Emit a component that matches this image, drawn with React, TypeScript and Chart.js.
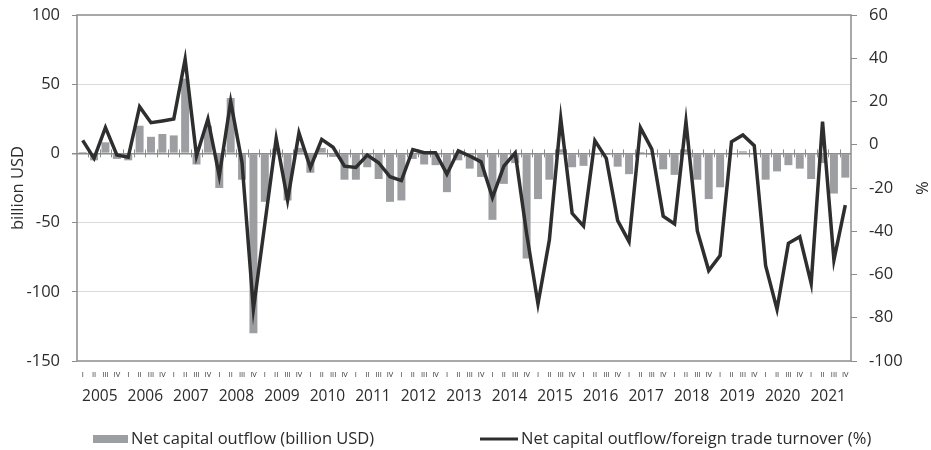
import React, { useEffect, useRef } from "react";
import { Chart, registerables } from "chart.js";

Chart.register(...registerables);

// ---------- data ----------
const years = [
  "2005", "2006", "2007", "2008", "2009", "2010", "2011", "2012", "2013",
  "2014", "2015", "2016", "2017", "2018", "2019", "2020", "2021",
];
const quarterNames = ["I", "II", "III", "IV"];
const quarterLabels = years.flatMap(() => quarterNames);

// Net capital outflow, billion USD (quarterly, 2005 Q1 – 2021 Q4)
const netOutflowBn = [
  1, -5, 8, -4,
  -5, 20, 12, 14,
  13, 54, -8, 20,
  -25, 40, -19, -130,
  -35, 3.5, -34, 4,
  -14, 4, -2.5, -19,
  -19, -10, -18.5, -35,
  -34, -4, -8, -8.5,
  -28, -5, -11, -17,
  -48, -22, -7, -76,
  -33, -19, 3, -10,
  -9, -1, -1, -9.6,
  -15, 1, -1, -11.5,
  -15.5, 3, -19, -33,
  -24.5, -0.5, 1.5, 0,
  -19, -13, -8.5, -11,
  -18.5, -7, -29, -17.5,
];

// Net capital outflow / foreign trade turnover, %
const outflowToTurnoverPct = [
  2, -6.3, 8, -4.7,
  -5.8, 17.6, 10.2, 11,
  11.9, 39.5, -5.2, 11.9,
  -14.4, 20, -8.3, -76,
  -36.7, 2.9, -25.6, 5.5,
  -10.6, 2.5, -1.2, -9.9,
  -10.5, -4.8, -8.3, -14.8,
  -16.6, -2.2, -3.7, -3.7,
  -13.6, -2.8, -5.2, -7.9,
  -24.4, -9.9, -3.7, -41,
  -73.6, -44, 12.2, -31.7,
  -37.6, 1.9, -6.3, -35.1,
  -44.8, 7.9, -2, -33,
  -36.6, 10.7, -39.9, -58.2,
  -51.3, 1.4, 4.5, -0.4,
  -55.9, -76.1, -45.6, -42.5,
  -64.1, 10.7, -53.3, -27.9,
];

const barLabel = "Net capital outflow (billion USD)";
const lineLabel = "Net capital outflow/foreign trade turnover (%)";

// ---------- styles ----------
const FONT = "'Open Sans', 'Noto Sans', sans-serif";
const TEXT = "#2b2b2b";
const FRAME = "#8c8c8c";
const GRID = "#dadada";
const BAR = "#9d9ea2";
const LINE = "#2e2e2e";

const framePlugin = {
  id: "frameAndZeroTicks",
  beforeDatasetsDraw(chart: any) {
    const { ctx, chartArea: a, scales } = chart;
    const x = scales.x;
    const y = scales.y;
    const y0 = y.getPixelForValue(0);
    const step = x.getPixelForValue(1) - x.getPixelForValue(0);
    const n = quarterLabels.length;
    ctx.save();
    ctx.strokeStyle = FRAME;
    ctx.lineWidth = 1;
    for (let i = 1; i < n; i++) {
      const px = Math.round(x.getPixelForValue(i) - step / 2) + 0.5;
      ctx.beginPath();
      ctx.moveTo(px, y0 - 4);
      ctx.lineTo(px, y0 + 4);
      ctx.stroke();
    }
    ctx.lineWidth = 1.5;
    ctx.strokeRect(a.left, a.top, a.right - a.left, a.bottom - a.top);
    ctx.restore();
  },
};

const legendPlugin = {
  id: "bottomLegend",
  afterDraw(chart: any) {
    const { ctx } = chart;
    const ds = chart.data.datasets;
    const y = 439;
    ctx.save();
    ctx.font = `16.5px ${FONT}`;
    ctx.textBaseline = "middle";
    ctx.textAlign = "left";
    // bar item
    ctx.fillStyle = ds[0].backgroundColor;
    ctx.fillRect(93, y - 4, 35, 8);
    ctx.fillStyle = TEXT;
    ctx.fillText(ds[0].label, 131, y);
    // line item
    ctx.strokeStyle = ds[1].borderColor;
    ctx.lineWidth = 3;
    ctx.beginPath();
    ctx.moveTo(480, y);
    ctx.lineTo(518, y);
    ctx.stroke();
    ctx.fillStyle = TEXT;
    ctx.fillText(ds[1].label, 521, y);
    ctx.restore();
  },
};

export default function App() {
  const canvasRef = useRef<HTMLCanvasElement | null>(null);

  useEffect(() => {
    if (!canvasRef.current) return;
    const chart = new Chart(canvasRef.current, {
      type: "bar",
      data: {
        labels: quarterLabels,
        datasets: [
          {
            type: "bar",
            label: barLabel,
            data: netOutflowBn,
            backgroundColor: BAR,
            borderWidth: 0,
            barPercentage: 0.7,
            categoryPercentage: 1,
            xAxisID: "x",
            yAxisID: "y",
            order: 2,
          },
          {
            type: "line",
            label: lineLabel,
            data: outflowToTurnoverPct,
            borderColor: LINE,
            backgroundColor: LINE,
            borderWidth: 3.5,
            pointRadius: 0,
            tension: 0,
            fill: false,
            xAxisID: "x",
            yAxisID: "y1",
            order: 1,
          },
        ],
      } as any,
      options: {
        responsive: false,
        animation: false,
        events: [],
        layout: { padding: { top: 15, bottom: 41, left: 0, right: 0 } },
        plugins: {
          legend: { display: false },
          tooltip: { enabled: false },
        },
        scales: {
          x: {
            type: "category",
            position: "bottom",
            weight: 0,
            offset: true,
            grid: { display: false, drawTicks: false },
            border: { display: false },
            ticks: {
              autoSkip: false,
              maxRotation: 0,
              minRotation: 0,
              padding: 9,
              color: "#333333",
              font: { family: "'Liberation Sans Narrow', " + FONT, size: 7.5 },
            },
            afterFit: (s: any) => {
              s.height = 20;
            },
          },
          x2: {
            type: "category",
            labels: years,
            position: "bottom",
            weight: 1,
            offset: true,
            grid: { display: false, drawTicks: false },
            border: { display: false },
            ticks: {
              autoSkip: false,
              maxRotation: 0,
              minRotation: 0,
              padding: 6,
              color: TEXT,
              font: { family: FONT, size: 15.5 },
            },
            afterFit: (s: any) => {
              s.height = 28;
            },
          },
          y: {
            position: "left",
            min: -150,
            max: 100,
            ticks: {
              stepSize: 50,
              padding: 12,
              color: TEXT,
              font: { family: FONT, size: 16.5, lineHeight: 0.3 },
            },
            grid: {
              color: (c: any) =>
                c.tick && c.tick.value === 0
                  ? FRAME
                  : c.tick && (c.tick.value === 100 || c.tick.value === -150)
                  ? "rgba(0,0,0,0)"
                  : GRID,
              lineWidth: (c: any) => (c.tick && c.tick.value === 0 ? 1.5 : 1),
              tickColor: FRAME,
              tickLength: 5,
            },
            border: { display: false },
            title: {
              display: true,
              text: "billion USD",
              color: TEXT,
              font: { family: FONT, size: 16.5 },
              padding: { top: 8, bottom: 0 },
            },
            afterFit: (s: any) => {
              s.width = 77;
            },
          },
          y1: {
            position: "right",
            min: -100,
            max: 60,
            ticks: {
              stepSize: 20,
              padding: 12,
              color: TEXT,
              font: { family: FONT, size: 16.5, lineHeight: 0.3 },
            },
            grid: {
              drawOnChartArea: false,
              tickColor: FRAME,
              tickLength: 6,
            },
            border: { display: false },
            title: {
              display: true,
              text: "%",
              color: TEXT,
              font: { family: FONT, size: 16.5 },
              padding: { top: 0, bottom: 0 },
            },
            afterFit: (s: any) => {
              s.width = 80;
            },
          },
        },
      } as any,
      plugins: [framePlugin, legendPlugin],
    });
    return () => chart.destroy();
  }, []);

  return (
    <div style={{ position: "absolute", left: 0, top: 0, width: 931, height: 450, background: "#fff" }}>
      <canvas ref={canvasRef} width={931} height={450} style={{ display: "block" }} />
    </div>
  );
}
